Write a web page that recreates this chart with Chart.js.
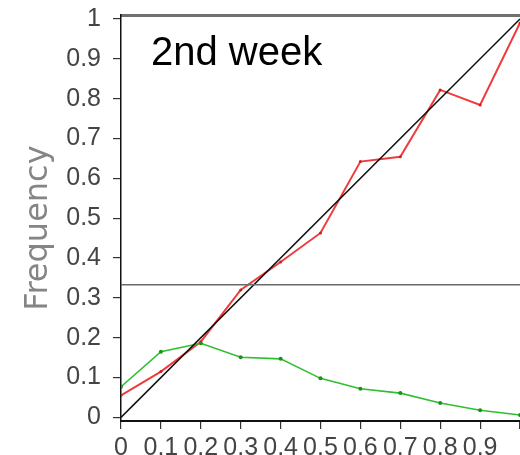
<!DOCTYPE html>
<html>
<head>
<meta charset="utf-8">
<script src="https://cdn.jsdelivr.net/npm/chart.js@4.4.1/dist/chart.umd.min.js"></script>
<style>
  html, body { margin: 0; padding: 0; background: #fff; }
  #wrap { width: 520px; height: 455px; }
</style>
</head>
<body>
<div id="wrap"><canvas id="chart"></canvas></div>
<script>
// Данные графика
const xValues = [0, 0.1, 0.2, 0.3, 0.4, 0.5, 0.6, 0.7, 0.8, 0.9, 1.0];
const redValues = [0.055, 0.115, 0.19, 0.32, 0.39, 0.463, 0.642, 0.654, 0.822, 0.784, 0.99];
const greenValues = [0.077, 0.165, 0.186, 0.151, 0.147, 0.098, 0.072, 0.061, 0.036, 0.018, 0.006];
const diagX = [0, 1];
const diagY = [0, 1];
const climX = [0, 1];
const climY = [0.333, 0.333];
const xTickValues = [0, 0.1, 0.2, 0.3, 0.4, 0.5, 0.6, 0.7, 0.8, 0.9, 1.0];
const xTickLabels = ['0', '0.1', '0.2', '0.3', '0.4', '0.5', '0.6', '0.7', '0.8', '0.9', ''];
const yTickValues = [0, 0.1, 0.2, 0.3, 0.4, 0.5, 0.6, 0.7, 0.8, 0.9, 1.0];
const yTickLabels = ['0', '0.1', '0.2', '0.3', '0.4', '0.5', '0.6', '0.7', '0.8', '0.9', '1'];
const panelTitle = '2nd week';
const yTitle = 'Frequency';

const toPoints = (xs, ys) => xs.map((x, i) => ({ x: x, y: ys[i] }));
const tickFont = { family: "'Liberation Sans', Arial, sans-serif", size: 25 };

// Надписи: заголовок внутри области и подпись оси Y
const textPlugin = {
    id: 'panelText',
    afterDraw(chart) {
        const ctx = chart.ctx;
        const area = chart.chartArea;
        ctx.save();
        ctx.font = "40px 'Liberation Sans', Arial, sans-serif";
        ctx.fillStyle = '#000';
        ctx.textBaseline = 'alphabetic';
        ctx.fillText(panelTitle, area.left + 30, area.top + 50);

        // подпись оси немного ниже центра, как в оригинале
        ctx.translate(area.left - 74, (area.top + area.bottom) / 2 + 10);
        ctx.rotate(-Math.PI / 2);
        ctx.font = "32px 'DejaVu Sans', sans-serif";
        ctx.fillStyle = '#858585';
        ctx.textAlign = 'center';
        ctx.fillText(yTitle, 0, 0);
        ctx.restore();
    }
};

// убираем автоматические отступы под подписи
const noPad = s => { s.paddingTop = 0; s.paddingBottom = 0; s.paddingLeft = 0; s.paddingRight = 0; };

new Chart(document.getElementById('chart'), {
    type: 'line',
    data: {
        datasets: [
            { data: toPoints(climX, climY), borderColor: '#6b6b6b', borderWidth: 1.5, pointRadius: 0 },
            { data: toPoints(diagX, diagY), borderColor: '#111', borderWidth: 1.5, pointRadius: 0 },
            { data: toPoints(xValues, greenValues), borderColor: '#2fbf2f', borderWidth: 1.6,
              pointRadius: 2, pointBackgroundColor: '#1f8f1f', pointBorderWidth: 0 },
            { data: toPoints(xValues, redValues), borderColor: '#ef3b3b', borderWidth: 2,
              pointRadius: 1.5, pointBackgroundColor: '#d02020', pointBorderWidth: 0 }
        ]
    },
    options: {
        responsive: true,
        maintainAspectRatio: false,
        animation: false,
        // область графика доходит до правого края холста
        layout: { padding: 0, autoPadding: false },
        plugins: { legend: { display: false }, tooltip: { enabled: false } },
        scales: {
            x: {
                type: 'linear', position: 'bottom', min: 0, max: 1,
                afterFit: s => { s.height = 34; noPad(s); },
                afterBuildTicks: s => { s.ticks = xTickValues.map(v => ({ value: v })); },
                grid: { drawOnChartArea: false, tickLength: 8, color: '#333', lineWidth: 1.2 },
                border: { color: '#111', width: 2 },
                ticks: { autoSkip: false, maxRotation: 0, padding: 4, color: '#444', font: tickFont,
                         callback: (v, i) => xTickLabels[i] }
            },
            x2: {
                type: 'linear', position: 'top', min: 0, max: 1,
                afterFit: s => { s.height = 15; noPad(s); },
                grid: { display: false },
                border: { color: '#707070', width: 3 },
                ticks: { display: false }
            },
            y: {
                type: 'linear', min: -0.009, max: 1.01,
                afterFit: s => { s.width = 121; noPad(s); },
                afterBuildTicks: s => { s.ticks = yTickValues.map(v => ({ value: v })); },
                grid: { drawOnChartArea: false, tickLength: 8, color: '#333', lineWidth: 1.2 },
                border: { color: '#111', width: 1.5 },
                ticks: { autoSkip: false, padding: 12, color: '#444', font: tickFont,
                         callback: (v, i) => yTickLabels[i] }
            }
        }
    },
    plugins: [textPlugin]
});
</script>
</body>
</html>
